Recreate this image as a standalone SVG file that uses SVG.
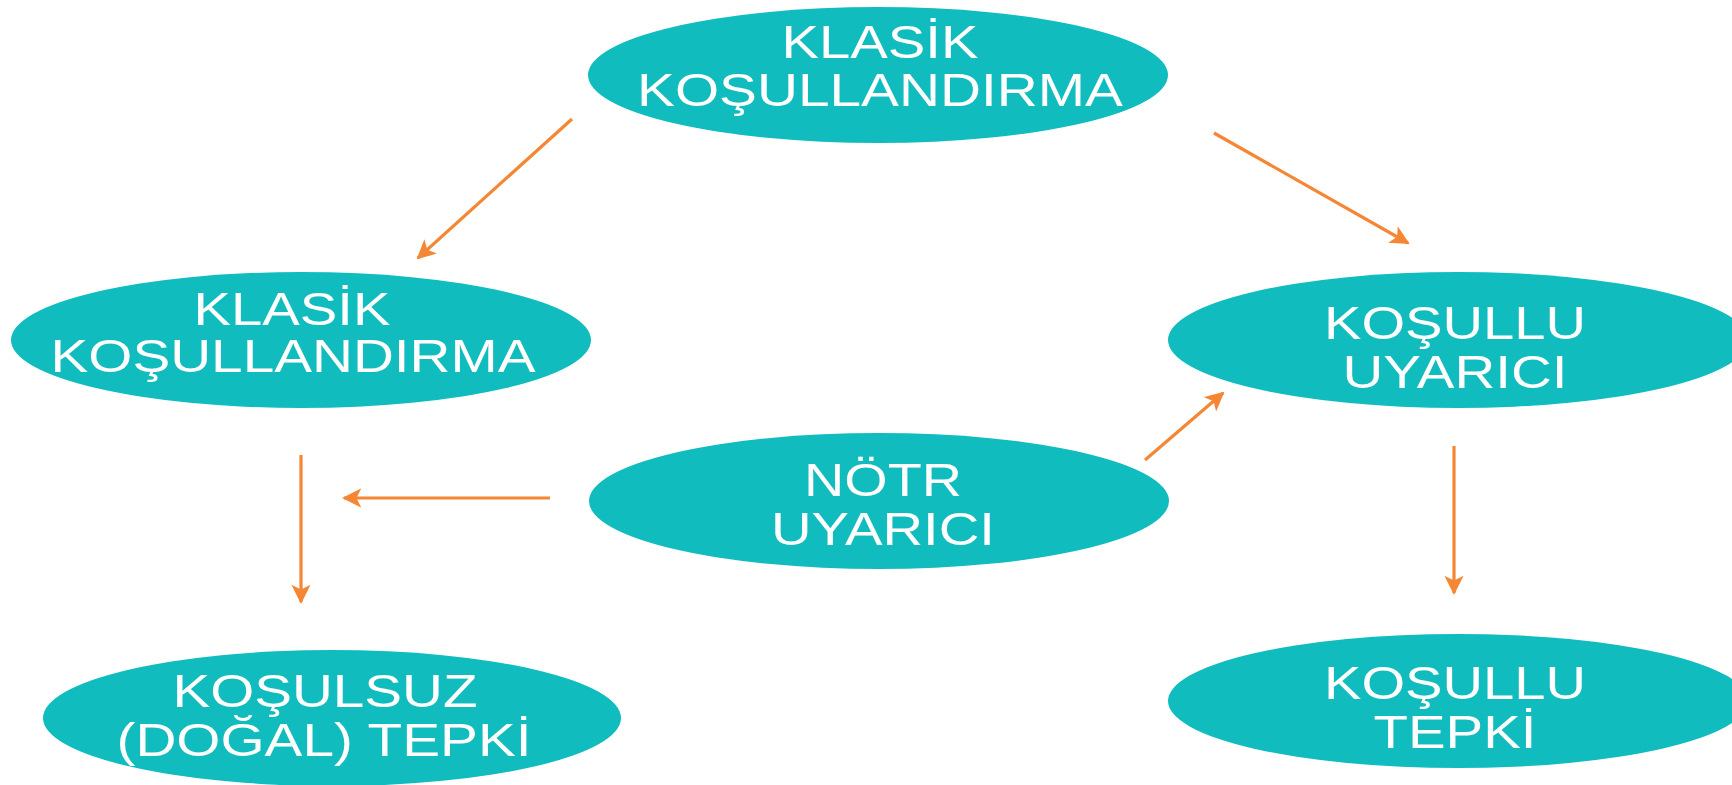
<svg xmlns="http://www.w3.org/2000/svg" width="1732" height="785" viewBox="0 0 1732 785">
<defs>
<style>
.node ellipse{fill:#11BCBF;}
.node text{font-family:"Liberation Sans",Arial,sans-serif;font-size:46px;fill:#ffffff;text-anchor:middle;}
.conn line{stroke:#F58634;stroke-width:3.2;fill:none;marker-end:url(#ah);}
</style>
<marker id="ah" viewBox="0 0 10 10" refX="9" refY="5" markerWidth="6" markerHeight="6" orient="auto" markerUnits="strokeWidth">
<path d="M0,0 L10,5 L0,10 L2.5,5 Z" fill="#F58634"/>
</marker>
</defs>
<rect width="1732" height="785" fill="#ffffff"/>
<g id="n-top" class="node">
<ellipse cx="878" cy="75" rx="290" ry="68"/>
<text x="880" y="58" textLength="197" lengthAdjust="spacingAndGlyphs">KLASİK</text>
<text x="880" y="106" textLength="486" lengthAdjust="spacingAndGlyphs">KOŞULLANDIRMA</text>
</g>
<g id="n-left" class="node">
<ellipse cx="301" cy="340" rx="290" ry="68"/>
<text x="292" y="325" textLength="197" lengthAdjust="spacingAndGlyphs">KLASİK</text>
<text x="293" y="372" textLength="485" lengthAdjust="spacingAndGlyphs">KOŞULLANDIRMA</text>
</g>
<g id="n-right" class="node">
<ellipse cx="1458" cy="340" rx="290" ry="68"/>
<text x="1455" y="339" textLength="262" lengthAdjust="spacingAndGlyphs">KOŞULLU</text>
<text x="1455" y="388" textLength="225" lengthAdjust="spacingAndGlyphs">UYARICI</text>
</g>
<g id="n-center" class="node">
<ellipse cx="879" cy="501" rx="290" ry="68"/>
<text x="883" y="496" textLength="158" lengthAdjust="spacingAndGlyphs">NÖTR</text>
<text x="883" y="545" textLength="224" lengthAdjust="spacingAndGlyphs">UYARICI</text>
</g>
<g id="n-bl" class="node">
<ellipse cx="332" cy="718" rx="289" ry="68"/>
<text x="325" y="707" textLength="305" lengthAdjust="spacingAndGlyphs">KOŞULSUZ</text>
<text x="324" y="756" textLength="415" lengthAdjust="spacingAndGlyphs">(DOĞAL) TEPKİ</text>
</g>
<g id="n-br" class="node">
<ellipse cx="1458" cy="701" rx="290" ry="67"/>
<text x="1455" y="699" textLength="262" lengthAdjust="spacingAndGlyphs">KOŞULLU</text>
<text x="1455" y="748" textLength="163" lengthAdjust="spacingAndGlyphs">TEPKİ</text>
</g>
<g id="connectors" class="conn">
<line x1="572" y1="119" x2="418" y2="258"/>
<line x1="1214" y1="133" x2="1408" y2="243"/>
<line x1="301" y1="455" x2="301" y2="602"/>
<line x1="550" y1="498" x2="344" y2="498"/>
<line x1="1145" y1="460" x2="1223" y2="393"/>
<line x1="1454" y1="446" x2="1454" y2="593"/>
</g>
</svg>
